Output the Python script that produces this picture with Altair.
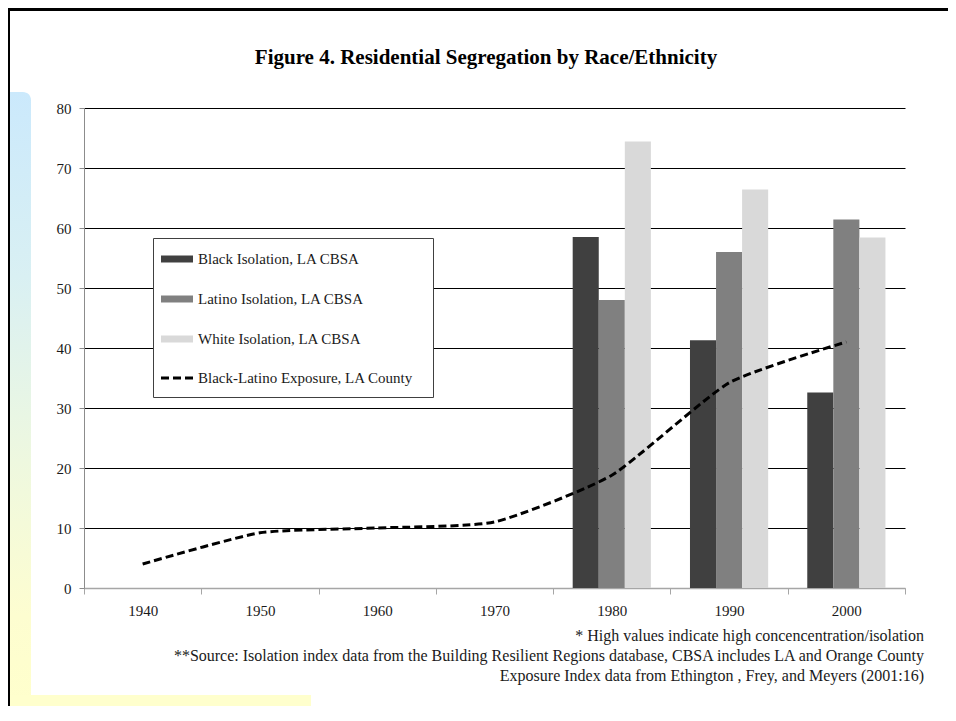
import altair as alt
import pandas as pd

# ---------------- data ----------------
years = ["1940", "1950", "1960", "1970", "1980", "1990", "2000"]
bar_years = ["1980", "1990", "2000"]
series = ["Black Isolation, LA CBSA", "Latino Isolation, LA CBSA", "White Isolation, LA CBSA"]
black_iso = [58.5, 41.3, 32.6]
latino_iso = [48.0, 56.0, 61.4]
white_iso = [74.4, 66.4, 58.4]
exposure_name = "Black-Latino Exposure, LA County"
exposure = [4.0, 9.2, 10.0, 11.0, 18.8, 34.2, 41.0]
y_ticks = [0, 10, 20, 30, 40, 50, 60, 70, 80]
title_text = "Figure 4. Residential Segregation by Race/Ethnicity"
footnotes = [
    "* High values indicate high concencentration/isolation",
    "**Source: Isolation index data from the Building Resilient Regions database, CBSA includes LA and Orange County",
    "Exposure Index data from Ethington , Frey, and Meyers (2001:16)",
]

# ---------------- styles ----------------
series_colors = ["#404040", "#808080", "#d9d9d9"]
SERIF = "Liberation Serif"
W, H = 821, 480

rows = []
for s, vals in zip(series, [black_iso, latino_iso, white_iso]):
    for yr, v in zip(bar_years, vals):
        rows.append({"year": yr, "series": s, "value": v})
bars_df = pd.DataFrame(rows)
line_df = pd.DataFrame({"year": years, "value": exposure})
one = pd.DataFrame({"k": [0]})

x_scale = alt.Scale(domain=years, paddingInner=0, paddingOuter=0)
y_scale = alt.Scale(domain=[0, 80], nice=False)

x_axis = alt.Axis(
    title=None, grid=False, tickBand="extent", labelAngle=0,
    domainColor="#a6a6a6", domainWidth=1.5, tickColor="#a6a6a6", tickSize=6,
    labelFont=SERIF, labelFontSize=15, labelColor="#1a1a1a", labelPadding=9,
)
y_axis = alt.Axis(
    title=None, values=y_ticks, grid=True,
    gridColor={"condition": {"test": "datum.value === 0", "value": "#a6a6a6"}, "value": "#000000"},
    gridWidth=1,
    domainColor="#8c8c8c", domainWidth=1, tickColor="#8c8c8c", tickSize=5,
    labelFont=SERIF, labelFontSize=15, labelColor="#1a1a1a", labelPadding=8,
)

bars = alt.Chart(bars_df).mark_bar().encode(
    x=alt.X("year:N", scale=x_scale, axis=x_axis),
    xOffset=alt.XOffset("series:N", scale=alt.Scale(domain=series, paddingInner=0, paddingOuter=0.75)),
    y=alt.Y("value:Q", scale=y_scale, axis=y_axis),
    color=alt.Color("series:N", scale=alt.Scale(domain=series, range=series_colors), legend=None),
)

line = alt.Chart(line_df).mark_line(
    color="black", strokeWidth=3, strokeDash=[8, 4], interpolate="cardinal", tension=0.45
).encode(
    x=alt.X("year:N", scale=x_scale, axis=x_axis),
    y=alt.Y("value:Q", scale=y_scale, axis=y_axis),
)

# ---------------- page decorations (pixel positions relative to plot) ----------------
strip = alt.Chart(one).mark_rect(
    cornerRadiusTopRight=8,
    fill=alt.LinearGradient(
        gradient="linear", x1=0, y1=0, x2=0, y2=1,
        stops=[
            alt.GradientStop(color="#cbe9fc", offset=0),
            alt.GradientStop(color="#d9f0f3", offset=0.3),
            alt.GradientStop(color="#eef8df", offset=0.6),
            alt.GradientStop(color="#fdfdd0", offset=0.85),
            alt.GradientStop(color="#ffffcc", offset=1),
        ],
    ),
).encode(x=alt.value(-75), x2=alt.value(-53), y=alt.value(-16), y2=alt.value(600))

yellow = alt.Chart(one).mark_rect(color="#ffffcd").encode(
    x=alt.value(-75), x2=alt.value(227), y=alt.value(587), y2=alt.value(600)
)
left_border = alt.Chart(one).mark_rect(color="#000000").encode(
    x=alt.value(-76), x2=alt.value(-74), y=alt.value(-100), y2=alt.value(600)
)
top_border = alt.Chart(one).mark_rect(color="#000000").encode(
    x=alt.value(-76), x2=alt.value(870), y=alt.value(-100), y2=alt.value(-97)
)

title = alt.Chart(one).mark_text(
    text=title_text, font=SERIF, fontSize=21, fontWeight="bold", color="#000000",
    align="center", baseline="middle",
).encode(x=alt.value(402), y=alt.value(-50))

foot_layers = []
for i, t in enumerate(footnotes):
    foot_layers.append(
        alt.Chart(one).mark_text(
            text=t, font=SERIF, fontSize=16, color="#1a1a1a", align="right", baseline="middle"
        ).encode(x=alt.value(840), y=alt.value(528 + i * 20))
    )

# ---------------- legend ----------------
legend_layers = [
    alt.Chart(one).mark_rect(fill="#ffffff", stroke="#404040", strokeWidth=1).encode(
        x=alt.value(69.5), x2=alt.value(349.5), y=alt.value(130.5), y2=alt.value(289.5)
    )
]
row_y = [151, 191, 231, 270]
for i, s in enumerate(series):
    legend_layers.append(
        alt.Chart(one).mark_rect(color=series_colors[i]).encode(
            x=alt.value(77), x2=alt.value(109), y=alt.value(row_y[i] - 3.5), y2=alt.value(row_y[i] + 3.5)
        )
    )
legend_layers.append(
    alt.Chart(one).mark_rule(color="black", strokeWidth=3, strokeDash=[8, 4]).encode(
        x=alt.value(77), x2=alt.value(109), y=alt.value(row_y[3])
    )
)
for i, s in enumerate(series + [exposure_name]):
    legend_layers.append(
        alt.Chart(one).mark_text(
            text=s, font=SERIF, fontSize=15, color="#1a1a1a", align="left", baseline="middle"
        ).encode(x=alt.value(114), y=alt.value(row_y[i]))
    )

chart = alt.layer(
    strip, yellow, left_border, top_border, title,
    bars, line, *legend_layers, *foot_layers,
).properties(
    width=W, height=H, autosize="none",
    padding={"left": 76, "top": 100, "right": 43, "bottom": 118},
).configure_view(strokeWidth=0)

chart.save("out.html", embed_options={"renderer": "svg", "actions": False})
